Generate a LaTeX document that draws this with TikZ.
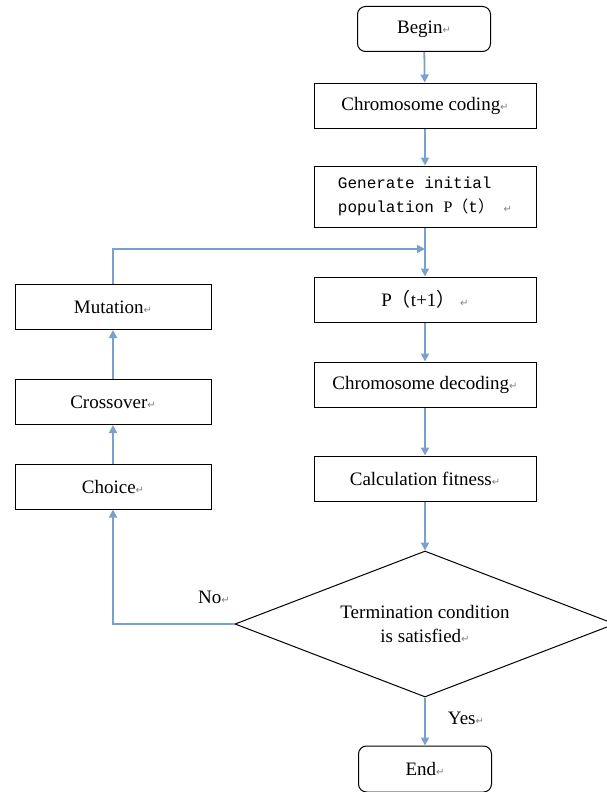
\documentclass[tikz,border=0pt]{standalone}
\usepackage{fontspec}
\setmainfont{Liberation Serif}
\setmonofont{Liberation Mono}
\newfontfamily\symfont{DejaVu Sans}
\newfontfamily\cjkfont{Noto Sans CJK SC}
\usetikzlibrary{shapes.geometric,arrows.meta}
\definecolor{flowblue}{RGB}{122,160,204}
\newcommand{\pmark}{{\symfont\fontsize{10}{10}\selectfont\color{gray}↵}}
\newcommand{\lpar}{{\cjkfont （}}
\newcommand{\rpar}{{\cjkfont ）}}
\begin{document}
\begin{tikzpicture}[x=1pt,y=-1pt,
	box/.style={draw,line width=1pt,minimum width=222pt,minimum height=45pt,inner sep=0pt,font=\fontsize{19}{22}\selectfont},
	term/.style={box,rounded corners=8pt,minimum width=133pt},
	side/.style={box,minimum width=196pt},
	test/.style={draw,diamond,line width=1pt,minimum width=380pt,minimum height=146pt,inner sep=0pt},
	flow/.style={draw=flowblue,line width=1.8pt,-{Triangle[length=8pt,width=8pt]}},
	lbl/.style={font=\fontsize{19}{24}\selectfont}]
	\useasboundingbox (0,0) rectangle (606,792);
	% main column
	\node[term] (begin) at (424,29) {Begin\pmark};
	\node[box] (code) at (425,105.5) {Chromosome coding\pmark};
	\node[box,minimum height=61pt,align=left,font=\ttfamily\fontsize{16}{24}\selectfont] (init) at (425,196.5)
	{Generate initial\\population {\rmfamily P}\lpar t\rpar\ \pmark};
	\coordinate (join) at (425,249);
	\node[box] (next) at (425,299.5) {P\lpar t+1\rpar\ \pmark};
	\node[box] (decode) at (425,384.5) {Chromosome decoding\pmark};
	\node[box] (fit) at (425,478.5) {Calculation fitness\pmark};
	\node[test] (stop) at (425,624) {};
	\node[lbl,align=center] (cond) at (stop) {Termination condition\\is satisfied\pmark};
	\node[term,minimum height=46pt] (end) at (425,769) {End\pmark};
	% loop column
	\node[side] (mut) at (113,307) {Mutation\pmark};
	\node[side] (cross) at (113,402) {Crossover\pmark};
	\node[side] (choice) at (113,486.5) {Choice\pmark};
	% connectors
	\foreach \a/\b in {begin/code,code/init,init/next,next/decode,decode/fit,fit/stop,stop/end,choice/cross,cross/mut}
	\draw[flow] (\a) -- (\b);
	\draw[flow] (mut.north) |- (join);
	\draw[flow] (stop.west) -| (choice.south);
	\node[lbl] (yes) at (466,718) {Yes\pmark};
	\node[lbl] (no) at (214,597) {No\pmark};
\end{tikzpicture}
\end{document}
